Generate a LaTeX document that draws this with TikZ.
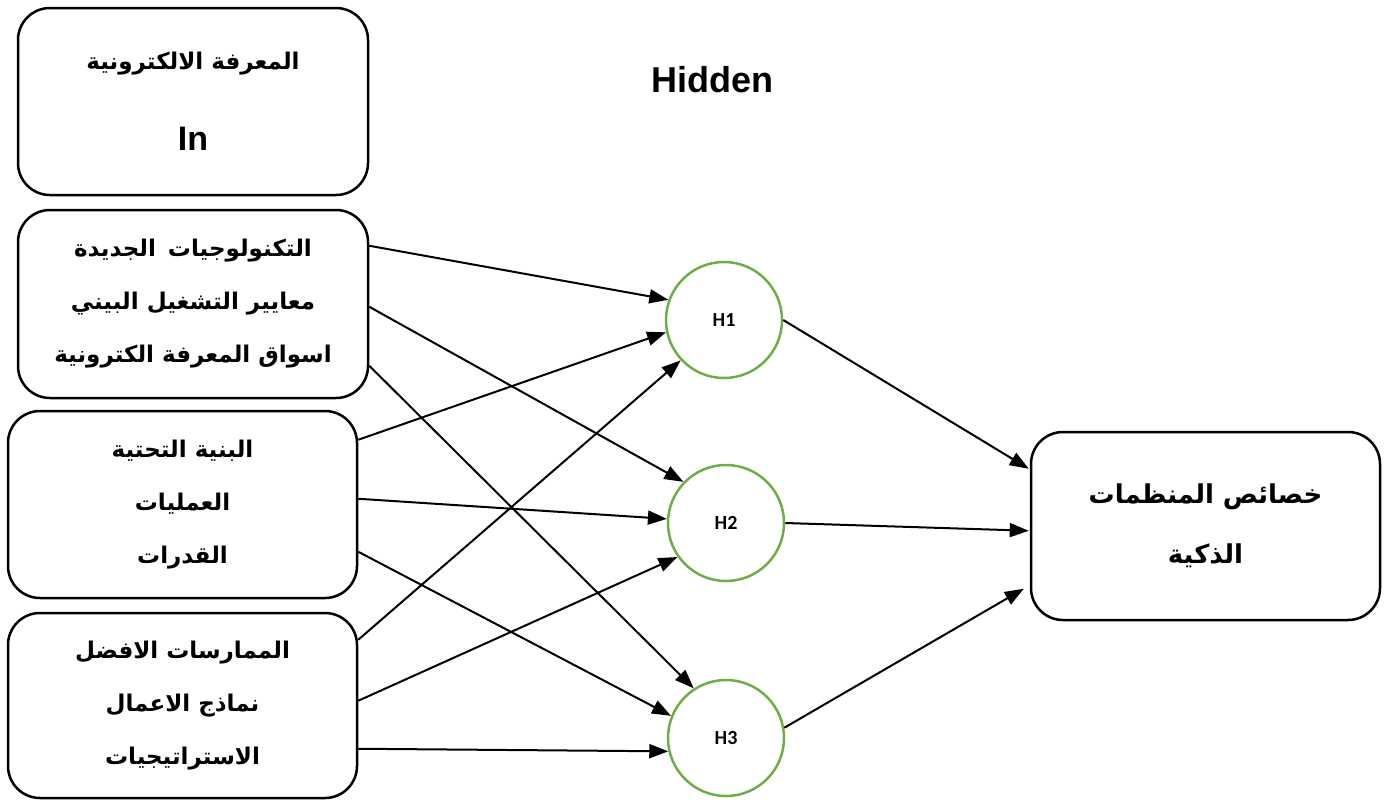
\documentclass[tikz,border=0pt]{standalone}
\usepackage{fontspec}
\usetikzlibrary{arrows.meta,calc}
\TeXXeTstate=1
\setmainfont{Liberation Sans}
\newfontfamily\arabicfont[Script=Arabic]{DejaVu Sans}
\newfontfamily\calfont{Carlito}
\definecolor{hidgreen}{RGB}{112,173,71}
\tikzset{
  box/.style={draw=black, line width=2.5pt, rounded corners=32pt, align=center,
    font=\arabicfont\bfseries\fontsize{23}{53}\selectfont},
  hid/.style={draw=hidgreen, line width=2.5pt, circle, minimum size=116pt, inner sep=0pt,
    font=\calfont\bfseries\fontsize{20}{24}\selectfont},
  arr/.style={line width=2pt, -{Triangle[length=19pt,width=14pt]}}
}
\begin{document}
\begin{tikzpicture}[x=1pt,y=-1pt]
\useasboundingbox (0,0) rectangle (1384,801);

% input groups
\node[box, minimum width=350pt, minimum height=187pt] (A) at (193,101.5)
  {\beginR المعرفة الالكترونية\endR\\[28pt]{\rmfamily\bfseries\fontsize{34}{40}\selectfont In}};
\node[box, minimum width=350pt, minimum height=188pt] (B) at (193,304)
  {\beginR التكنولوجيات\hspace{12pt}الجديدة\endR\\\beginR معايير التشغيل البيني\endR\\\beginR اسواق المعرفة الكترونية\endR};
\node[box, minimum width=349pt, minimum height=187pt] (C) at (182.5,504.5)
  {\beginR البنية التحتية\endR\\\beginR العمليات\endR\\\beginR القدرات\endR};
\node[box, minimum width=349pt, minimum height=185pt] (D) at (182.5,705.5)
  {\beginR الممارسات الافضل\endR\\\beginR نماذج الاعمال\endR\\\beginR الاستراتيجيات\endR};

% output
\node[box, minimum width=349pt, minimum height=188pt, font=\arabicfont\bfseries\fontsize{26}{53}\selectfont] (O) at (1205.5,526)
  {\beginR خصائص المنظمات\endR\\[7pt]\beginR الذكية\endR};

% hidden layer
\node[font=\bfseries\fontsize{36}{40}\selectfont] (T) at (712,80) {Hidden};
\node[hid] (H1) at (724,320) {H1};
\node[hid] (H2) at (726,523) {H2};
\node[hid] (H3) at (726,738) {H3};

% connections into the hidden layer
\draw[arr] ($(B.north east)+(0,37)$)  -- (H1.160.7);
\draw[arr] ($(B.north east)+(0,98)$)  -- (H2.136.4);
\draw[arr] ($(B.north east)+(0,157)$) -- (H3.123.4);
\draw[arr] ($(C.north east)+(0,30)$)  -- (H1.-168);
\draw[arr] ($(C.north east)+(0,89)$)  -- (H2.176);
\draw[arr] ($(C.north east)+(0,142)$) -- (H3.158.2);
\draw[arr] ($(D.north east)+(0,28)$)  -- (H1.223.7);
\draw[arr] ($(D.north east)+(0,89)$)  -- (H2.215.7);
\draw[arr] ($(D.north east)+(0,137)$) -- (H3.193);

% connections to the output
\draw[arr] (H1.0)    -- ($(O.north west)+(-1,38)$);
\draw[arr] (H2.0)    -- ($(O.north west)+(-1,100)$);
\draw[arr] (H3.10.5) -- ($(O.north west)+(-6,158)$);
\end{tikzpicture}
\end{document}
